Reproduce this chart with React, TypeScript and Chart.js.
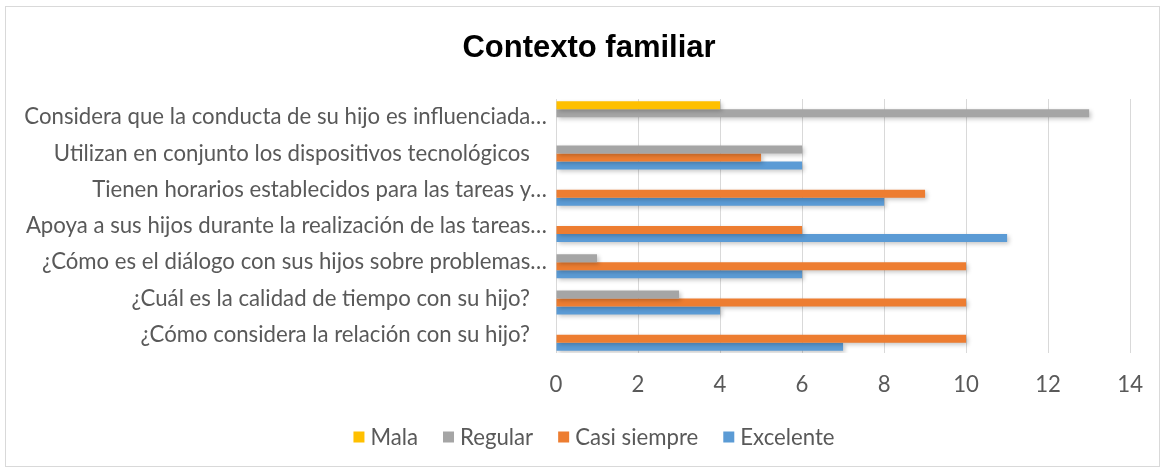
import React, { useEffect, useRef } from "react";
import { Chart, registerables } from "chart.js";

Chart.register(...registerables);

const categories = [
  "Considera que la conducta de su hijo es influenciada…",
  "Utilizan en conjunto los dispositivos tecnológicos   ",
  "Tienen horarios establecidos para las tareas y…",
  "Apoya a sus hijos durante la realización de las tareas…",
  "¿Cómo es el diálogo con sus hijos sobre problemas…",
  "¿Cuál es la calidad de tiempo con su hijo?   ",
  "¿Cómo considera la relación con su hijo?   ",
];

const mala = [4, 0, 0, 0, 0, 0, 0];
const regular = [13, 6, 0, 0, 1, 3, 0];
const casiSiempre = [0, 5, 9, 6, 10, 10, 10];
const excelente = [0, 6, 8, 11, 6, 4, 7];

const xTicks = [0, 2, 4, 6, 8, 10, 12, 14];

const TITLE = "Contexto familiar";
const TEXT = "#595959";
const LABEL_FONT = "Lato";
const LABEL_SIZE = 22.2;

const frame = {
  id: "frame",
  beforeDraw(chart: any) {
    const ctx = chart.ctx;
    ctx.save();
    ctx.fillStyle = "#ffffff";
    ctx.fillRect(0, 0, chart.width, chart.height);
    ctx.strokeStyle = "#d9d9d9";
    ctx.lineWidth = 1;
    ctx.strokeRect(5.5, 6.5, chart.width - 8, chart.height - 11);
    ctx.fillStyle = "#000000";
    ctx.font = "bold 31px 'Liberation Sans', Arial, sans-serif";
    ctx.textAlign = "center";
    ctx.textBaseline = "middle";
    ctx.fillText(TITLE, 589, 48);
    ctx.restore();
  },
  beforeDatasetsDraw(chart: any) {
    const ctx = chart.ctx;
    ctx.save();
    ctx.shadowColor = "rgba(0,0,0,0.22)";
    ctx.shadowBlur = 4;
    ctx.shadowOffsetX = 2;
    ctx.shadowOffsetY = 2;
  },
  afterDatasetsDraw(chart: any) {
    chart.ctx.restore();
  },
  afterDraw(chart: any) {
    // legend, built from the datasets
    const ctx = chart.ctx;
    const items = chart.data.datasets.map((d: any) => ({
      text: d.label as string,
      color: d.backgroundColor as string,
    }));
    ctx.save();
    ctx.font = `${LABEL_SIZE}px ${LABEL_FONT}`;
    const box = 11;
    const gapText = 6;
    const gapItem = 25;
    const widths = items.map((it: any) => box + gapText + ctx.measureText(it.text).width);
    const total = widths.reduce((a: number, b: number) => a + b, 0) + gapItem * (items.length - 1);
    let x = 594 - total / 2;
    const cy = 437;
    ctx.textBaseline = "middle";
    ctx.textAlign = "left";
    items.forEach((it: any, i: number) => {
      ctx.fillStyle = it.color;
      ctx.fillRect(x, cy - box / 2, box, box);
      ctx.fillStyle = TEXT;
      ctx.fillText(it.text, x + box + gapText, cy + 1);
      x += widths[i] + gapItem;
    });
    ctx.restore();
  },
};

export default function App() {
  const ref = useRef<HTMLCanvasElement | null>(null);

  useEffect(() => {
    document.body.style.margin = "0";
    const canvas = ref.current;
    if (!canvas) return;
    const chart = new Chart(canvas, {
      type: "bar",
      data: {
        labels: categories,
        datasets: [
          { label: "Mala", data: mala, backgroundColor: "#FFC000" },
          { label: "Regular", data: regular, backgroundColor: "#A5A5A5" },
          { label: "Casi siempre", data: casiSiempre, backgroundColor: "#ED7D31" },
          { label: "Excelente", data: excelente, backgroundColor: "#5B9BD5" },
        ],
      },
      options: {
        indexAxis: "y",
        responsive: false,
        animation: false,
        devicePixelRatio: 1,
        datasets: {
          bar: { categoryPercentage: 0.88, barPercentage: 1.0, borderWidth: 0 },
        },
        layout: { padding: { left: 8, right: 31, top: 99, bottom: 70 } },
        plugins: {
          title: { display: false },
          legend: { display: false },
          tooltip: { enabled: false },
        },
        scales: {
          x: {
            min: 0,
            max: 14,
            afterBuildTicks: (scale: any) => {
              scale.ticks = xTicks.map((v) => ({ value: v }));
            },
            afterFit: (scale: any) => {
              scale.height = 48;
            },
            grid: { color: "#d9d9d9", drawTicks: false, lineWidth: 1 },
            border: { display: false },
            ticks: {
              color: TEXT,
              font: { family: LABEL_FONT, size: LABEL_SIZE },
              padding: 19,
            },
          },
          y: {
            afterFit: (scale: any) => {
              scale.width = 548;
            },
            grid: { display: false, drawTicks: false },
            border: { display: false },
            ticks: {
              color: TEXT,
              font: { family: LABEL_FONT, size: LABEL_SIZE },
              padding: 9,
              autoSkip: false,
            },
          },
        },
      },
      plugins: [frame],
    });
    return () => chart.destroy();
  }, []);

  return (
    <div style={{ width: 1162, height: 471 }}>
      <canvas ref={ref} width={1162} height={471} style={{ display: "block" }} />
    </div>
  );
}
